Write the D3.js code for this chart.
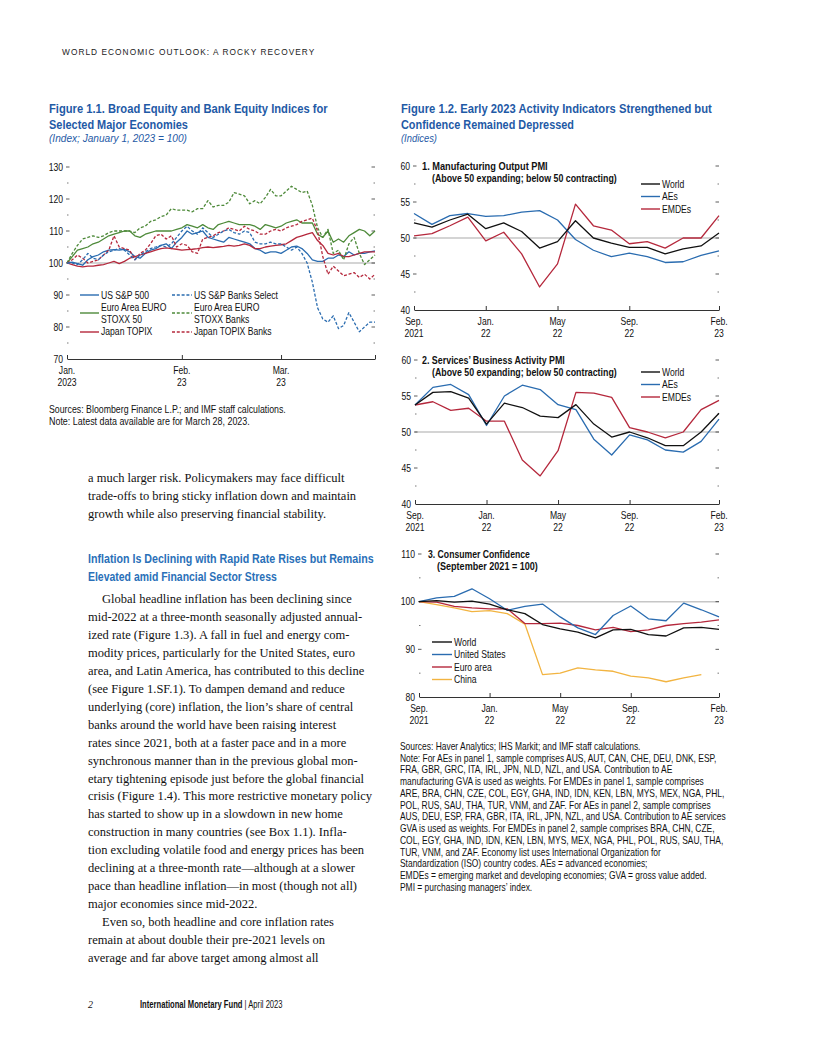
<html>
<head>
<script src="https://d3js.org/d3.v7.min.js"></script>
<style>
  body { margin: 0; background: #fff; }
  text { font-family: "Liberation Sans", Arial, sans-serif; fill: #111; }
  .serif { font-family: "Liberation Serif", "DejaVu Serif", serif; }
</style>
</head>
<body>
<svg id="page" width="816" height="1056"></svg>
<script>
// ---- Figure 1.1: equity indices, trading days Jan 2 - Mar 28, 2023 ----
const eqTickIdx = [0, 22, 41, 59];
const eqTickLabels = [["Jan.", "2023"], ["Feb.", "23"], ["Mar.", "23"], null];
const spx = [100,100.3,99.8,99.3,101,102,102.5,103.5,104,104.2,104,104.3,103.5,102,101.5,103,104,104.5,105.5,106,104.5,106.5,108,110,109,109.5,110,108,107.5,107,106.5,108,107.5,107,106.5,106,104.5,104,103,103.5,103.5,103,104,105,105.3,104.5,103,101,100.5,100.5,101.5,101.5,102.5,102,103.5,102.5,103,103,103.5,103.8];
const spxBanks = [100,100,99.5,101,103,101.5,101,102.5,103.5,104,104.5,104,102.5,101,102.5,103.5,104.5,105,105.5,105,106,108,110,111.5,110,109,111,109.5,108,109,110,110.5,109.5,109,110,109.5,106.5,106,106,106.5,106,106,105,104,105,103,100,94,86,82.5,81.5,83.5,79.5,80.5,84.5,81.5,78.5,80,81.5,81.5];
const stoxx50 = [100,102,104,104.5,105,106,106.5,107.5,108.5,109,109.5,110,110,108.5,108,109,109.5,110,110,110,110,110.5,111,112,111.5,111,112,111,110.5,112,112.5,113,112.5,112,112,112,111.5,110.5,112,111.5,111,111.5,112.5,113,113.5,112.5,112.5,112.5,109,108,110,106.5,107.5,106.5,108.5,109.5,110.5,110,108.5,110];
const stoxxBanks = [100,103,105.5,107.5,108,108.5,108,108.5,109.5,110,110,110,110,109.5,111,111.5,113,113.5,114.5,115,117,116.5,116.5,116.5,116,117,117,119.5,117.5,118,118,119,122,121.5,121,118.5,119.5,118.5,120.5,123,121,121,122.5,124,123,122,122.5,118,111,108,110.5,103,104,101,106,108,103,99.5,101,102.5];
const topix = [100,99.5,99,98.8,99,99,99.3,99.5,100,100.5,99.8,100.5,101.5,102,102.5,103,103.5,104,104.5,104.7,104.5,104.3,104,104.2,104.3,104.5,104.8,105,104.8,105,105.2,105.5,105.3,105.5,106,105.5,104.5,104.5,105,105.3,105.5,105.7,106,107,108,108.5,109,109.5,107,105.5,103,102.5,103,102,102,102.5,103,103.5,103.5,103.5];
const topixBanks = [100,101,102.5,101.5,100,100.5,101,102.5,104,108.5,105,104.5,104,101,103,104,106,108.5,109,107.5,108.5,105,106,105.5,103.5,103,107.5,108,108.5,109.5,110,111,110.5,110,111.5,110.5,110,109,109,110,110.5,110,111,111.5,112,113,113.5,114,110,102,96.5,99,97.5,96,96.5,97,95.5,96.5,95,96.5];

// ---- Figure 1.2: monthly, Sep 2021 - Feb 2023 ----
const monthTickIdx = [0, 4, 8, 12, 17];
const monthTickLabels = [["Sep.", "2021"], ["Jan.", "22"], ["May", "22"], ["Sep.", "22"], ["Feb.", "23"]];
const mfgWorld = [52.1,51.5,52.5,53.3,51.3,52.1,50.9,48.6,49.5,52.4,50.0,49.3,48.7,48.7,47.8,48.5,48.9,50.7];
const mfgAEs = [53.4,51.9,53.1,53.4,53.0,53.1,53.6,53.8,52.5,49.8,48.3,47.4,47.9,47.4,46.6,46.7,47.6,48.2];
const mfgEMDEs = [50.3,50.6,51.7,52.9,49.6,50.8,47.8,43.2,46.4,54.7,51.7,51.1,49.2,49.5,48.6,50.0,50.0,53.1];
const svcWorld = [53.75,55.5,55.6,54.7,51.1,54.0,53.4,52.2,52.0,53.8,51.1,49.3,50.0,49.2,48.1,48.1,50.0,52.6];
const svcAEs = [53.75,56.2,56.6,55.2,50.9,55.0,56.5,55.9,53.8,53.1,49.0,46.8,49.6,48.9,47.5,47.2,48.7,51.8];
const svcEMDEs = [53.75,54.2,53.0,53.3,51.5,51.5,46.1,43.9,47.4,55.5,55.4,54.8,50.6,50.0,49.2,50.0,53.1,54.4];
const ccWorld = [100,100.2,99.9,100.1,99.5,98.3,97.5,95.2,94.3,93.6,92.4,94.1,94.2,93.1,92.8,94.5,94.6,94.2];
const ccUS = [100,100.8,101.1,102.7,100.6,98.2,99.0,99.5,96.8,94.5,93.1,97.1,99.1,96.4,96.0,99.7,98.3,96.8];
const ccEuro = [100,99.9,99.0,98.7,98.5,98.5,95.4,95.4,95.5,95.0,94.1,94.6,93.7,94.1,95.0,95.4,95.7,96.2];
const ccChina = [100,99.4,98.7,97.9,98.1,97.5,95.3,84.7,85.0,86.1,85.7,85.4,84.4,84.0,83.2,84.0,84.7,null];

const BLUE = "#2a6cb0", RED = "#b5283c", GREEN = "#4e8a3a", YELLOW = "#f2b441", TITLE = "#1f5aa6";
const NARROW = 0.82; // squeeze Liberation Sans into an Arial Narrow look

const svg = d3.select("#page");

// horizontal squeeze about the text's own x, either by factor or to a target width
function squeeze(t, factor, width) {
  const x = +t.attr("x");
  let s = factor;
  if (width) s = width / t.node().getComputedTextLength();
  t.attr("transform", `translate(${x},0) scale(${s},1) translate(${-x},0)`);
  return s;
}

function addText(g, x, y, str, opts = {}) {
  const t = g.append("text").attr("x", x).attr("y", y).text(str)
    .attr("font-size", opts.size || 10);
  if (opts.weight) t.attr("font-weight", opts.weight);
  if (opts.italic) t.attr("font-style", "italic");
  if (opts.fill) t.style("fill", opts.fill);
  if (opts.anchor) t.attr("text-anchor", opts.anchor);
  if (opts.cls) t.attr("class", opts.cls);
  if (opts.spacing) t.attr("letter-spacing", opts.spacing);
  if (opts.width) squeeze(t, 1, opts.width);
  else if (opts.scale) squeeze(t, opts.scale);
  else if (!opts.cls) squeeze(t, NARROW);
  return t;
}

// generic line chart panel
function panel(cfg) {
  const g = svg.append("g");
  const x = d3.scaleLinear().domain(cfg.xDomain).range([cfg.left, cfg.right]);
  const y = d3.scaleLinear().domain(cfg.yDomain).range([cfg.bottom, cfg.top]);

  g.append("line")
    .attr("x1", cfg.left).attr("x2", cfg.right)
    .attr("y1", y(cfg.ref)).attr("y2", y(cfg.ref))
    .attr("stroke", "#c6c6c6").attr("stroke-width", 1.5);

  cfg.majors.forEach(d => addText(g, cfg.left - 4, y(d) + 3.7, d, { anchor: "end", size: cfg.labelSize || 10.5 }));
  const majorTicks = cfg.majors.filter(d => d !== cfg.yDomain[0]);
  g.selectAll(".ytl").data(majorTicks).join("line")
    .attr("x1", cfg.left - 1).attr("x2", cfg.left + 2.5)
    .attr("y1", d => y(d)).attr("y2", d => y(d)).attr("stroke", "#333").attr("stroke-width", 0.8);
  g.selectAll(".ytr").data(majorTicks).join("line")
    .attr("x1", cfg.right - 3.5).attr("x2", cfg.right)
    .attr("y1", d => y(d)).attr("y2", d => y(d)).attr("stroke", "#333").attr("stroke-width", 0.8);
  g.selectAll(".ymn").data(cfg.minors.flatMap(d => [[cfg.left, d], [cfg.right - 1.5, d]])).join("line")
    .attr("x1", d => d[0]).attr("x2", d => d[0] + 1.5)
    .attr("y1", d => y(d[1])).attr("y2", d => y(d[1])).attr("stroke", "#555").attr("stroke-width", 0.8);

  const ax = g.append("g").attr("transform", `translate(0,${cfg.bottom})`)
    .call(d3.axisBottom(x).tickValues(cfg.xTicks).tickSizeInner(-4).tickSizeOuter(0).tickFormat(""));
  ax.select(".domain").attr("stroke", "#333").attr("stroke-width", 1);
  ax.selectAll(".tick line").attr("stroke", "#333").attr("stroke-width", 1);
  cfg.xTicks.forEach((v, i) => {
    const lab = cfg.xLabels[i];
    if (!lab) return;
    addText(g, x(v), cfg.bottom + 15, lab[0], { anchor: "middle", size: cfg.labelSize || 10.5 });
    addText(g, x(v), cfg.bottom + 27, lab[1], { anchor: "middle", size: cfg.labelSize || 10.5 });
  });

  const line = d3.line().defined(d => d != null).x((d, i) => x(i)).y(d => y(d));
  cfg.series.forEach(s => {
    g.append("path").datum(s.values)
      .attr("fill", "none").attr("stroke", s.color).attr("stroke-width", s.width || 1.3)
      .attr("stroke-dasharray", s.dash ? "3,1.8" : null)
      .attr("stroke-linejoin", "round")
      .attr("d", line);
  });

  if (cfg.title) {
    const tt = cfg.title;
    addText(g, tt.x, y(cfg.yDomain[1]) + 3.7, tt.lines[0], { size: 10.5, weight: "bold", width: tt.widths[0] });
    addText(g, tt.x + tt.indent, y(cfg.yDomain[1]) + 15.7, tt.lines[1], { size: 10.5, weight: "bold", width: tt.widths[1] });
  }

  cfg.legend.forEach(l => {
    g.append("line").attr("x1", l.x).attr("x2", l.x + l.len)
      .attr("y1", l.ly).attr("y2", l.ly)
      .attr("stroke", l.color).attr("stroke-width", 1.4)
      .attr("stroke-dasharray", l.dash ? "3,1.8" : null);
    l.text.forEach((t, k) => addText(g, l.x + l.len + 2, l.ty + k * 12, t, { size: 10.5 }));
  });
  return g;
}

// ---------- page header ----------
addText(svg, 62, 55, "WORLD ECONOMIC OUTLOOK: A ROCKY RECOVERY",
  { size: 8.3, spacing: 1.05, scale: 1 }).style("fill", "#222");

// ---------- Figure 1.1 ----------
addText(svg, 49, 113, "Figure 1.1.  Broad Equity and Bank Equity Indices for", { size: 12.5, weight: "bold", fill: TITLE, width: 279 });
addText(svg, 49, 129, "Selected Major Economies", { size: 12.5, weight: "bold", fill: TITLE, width: 139 });
addText(svg, 49, 142, "(Index; January 1, 2023 = 100)", { size: 10.8, italic: true, fill: TITLE, width: 138 });

panel({
  left: 67, right: 375, top: 167, bottom: 359,
  xDomain: [0, 59], yDomain: [70, 130], ref: 100,
  majors: [70, 80, 90, 100, 110, 120, 130], minors: [75, 85, 95, 105, 115, 125],
  xTicks: eqTickIdx, xLabels: eqTickLabels,
  series: [
    { values: spx, color: BLUE },
    { values: stoxx50, color: GREEN },
    { values: topix, color: RED },
    { values: stoxxBanks, color: GREEN, dash: true },
    { values: topixBanks, color: RED, dash: true },
    { values: spxBanks, color: BLUE, dash: true }
  ],
  legend: [
    { x: 80, len: 19, ly: 295, ty: 299, color: BLUE, text: ["US S&P 500"] },
    { x: 80, len: 19, ly: 313, ty: 311, color: GREEN, text: ["Euro Area EURO", "STOXX 50"] },
    { x: 80, len: 19, ly: 332, ty: 335, color: RED, text: ["Japan TOPIX"] },
    { x: 172, len: 20, ly: 295, ty: 299, color: BLUE, dash: true, text: ["US S&P Banks Select"] },
    { x: 172, len: 20, ly: 313, ty: 311, color: GREEN, dash: true, text: ["Euro Area EURO", "STOXX Banks"] },
    { x: 172, len: 20, ly: 332, ty: 335, color: RED, dash: true, text: ["Japan TOPIX Banks"] }
  ]
});

addText(svg, 49, 413, "Sources: Bloomberg Finance L.P.; and IMF staff calculations.", { size: 10.5, width: 237 });
addText(svg, 49, 425, "Note: Latest data available are for March 28, 2023.", { size: 10.5, width: 201 });

// ---------- Figure 1.2 ----------
addText(svg, 401, 113, "Figure 1.2.  Early 2023 Activity Indicators Strengthened but", { size: 12.5, weight: "bold", fill: TITLE, width: 311 });
addText(svg, 401, 129, "Confidence Remained Depressed", { size: 12.5, weight: "bold", fill: TITLE, width: 173 });
addText(svg, 401, 142, "(Indices)", { size: 10.8, italic: true, fill: TITLE, width: 36 });

const pmiLegend = (yw) => [
  { x: 641, len: 19, ly: yw, ty: yw + 3.7, color: "#111", text: ["World"] },
  { x: 641, len: 19, ly: yw + 12.5, ty: yw + 16.2, color: BLUE, text: ["AEs"] },
  { x: 641, len: 19, ly: yw + 25, ty: yw + 28.7, color: RED, text: ["EMDEs"] }
];

panel({
  left: 414, right: 719, top: 166, bottom: 310,
  xDomain: [0, 17], yDomain: [40, 60], ref: 50,
  majors: [40, 45, 50, 55, 60], minors: [42.5, 47.5, 52.5, 57.5],
  xTicks: monthTickIdx, xLabels: monthTickLabels,
  series: [
    { values: mfgEMDEs, color: RED },
    { values: mfgAEs, color: BLUE },
    { values: mfgWorld, color: "#111" }
  ],
  title: { x: 422, indent: 10, widths: [126, 185], lines: ["1. Manufacturing Output PMI", "(Above 50 expanding; below 50 contracting)"] },
  legend: pmiLegend(184)
});

panel({
  left: 415, right: 719, top: 360, bottom: 504,
  xDomain: [0, 17], yDomain: [40, 60], ref: 50,
  majors: [40, 45, 50, 55, 60], minors: [42.5, 47.5, 52.5, 57.5],
  xTicks: monthTickIdx, xLabels: monthTickLabels,
  series: [
    { values: svcEMDEs, color: RED },
    { values: svcAEs, color: BLUE },
    { values: svcWorld, color: "#111" }
  ],
  title: { x: 422, indent: 10, widths: [143, 185], lines: ["2. Services’ Business Activity PMI", "(Above 50 expanding; below 50 contracting)"] },
  legend: pmiLegend(372)
});

panel({
  left: 419, right: 719, top: 554, bottom: 697,
  xDomain: [0, 17], yDomain: [80, 110], ref: 100,
  majors: [80, 90, 100, 110], minors: [85, 95, 105],
  xTicks: monthTickIdx, xLabels: monthTickLabels,
  series: [
    { values: ccChina, color: YELLOW },
    { values: ccEuro, color: RED },
    { values: ccUS, color: BLUE },
    { values: ccWorld, color: "#111" }
  ],
  title: { x: 428, indent: 9, widths: [102, 101], lines: ["3. Consumer Confidence", "(September 2021 = 100)"] },
  legend: [
    { x: 432, len: 20, ly: 642, ty: 645.7, color: "#111", text: ["World"] },
    { x: 432, len: 20, ly: 654.5, ty: 658.2, color: BLUE, text: ["United States"] },
    { x: 432, len: 20, ly: 667, ty: 670.7, color: RED, text: ["Euro area"] },
    { x: 432, len: 20, ly: 679.5, ty: 683.2, color: YELLOW, text: ["China"] }
  ]
});

const noteLines = [
  "Sources: Haver Analytics; IHS Markit; and IMF staff calculations.",
  "Note: For AEs in panel 1, sample comprises AUS, AUT, CAN, CHE, DEU, DNK, ESP,",
  "FRA, GBR, GRC, ITA, IRL, JPN, NLD, NZL, and USA. Contribution to AE",
  "manufacturing GVA is used as weights. For EMDEs in panel 1, sample comprises",
  "ARE, BRA, CHN, CZE, COL, EGY, GHA, IND, IDN, KEN, LBN, MYS, MEX, NGA, PHL,",
  "POL, RUS, SAU, THA, TUR, VNM, and ZAF. For AEs in panel 2, sample comprises",
  "AUS, DEU, ESP, FRA, GBR, ITA, IRL, JPN, NZL, and USA. Contribution to AE services",
  "GVA is used as weights. For EMDEs in panel 2, sample comprises BRA, CHN, CZE,",
  "COL, EGY, GHA, IND, IDN, KEN, LBN, MYS, MEX, NGA, PHL, POL, RUS, SAU, THA,",
  "TUR, VNM, and ZAF. Economy list uses International Organization for",
  "Standardization (ISO) country codes. AEs = advanced economies;",
  "EMDEs = emerging market and developing economies; GVA = gross value added.",
  "PMI = purchasing managers’ index."
];
// fit line 2 to its measured width, then use the same squeeze for every note line
const probe = addText(svg, 400, 750 + 11.75, noteLines[1], { size: 10.5, scale: 1 });
const noteScale = squeeze(probe, 1, 317);
noteLines.forEach((t, i) => { if (i !== 1) addText(svg, 400, 750 + i * 11.75, t, { size: 10.5, scale: noteScale }); });

// ---------- body text ----------
const bodyTop = [
  "a much larger risk. Policymakers may face difficult",
  "trade-offs to bring sticky inflation down and maintain",
  "growth while also preserving financial stability."
];
const heading = [
  "Inflation Is Declining with Rapid Rate Rises but Remains",
  "Elevated amid Financial Sector Stress"
];
const headingWidths = [286, 189];
const bodyMain = [
  "Global headline inflation has been declining since",
  "mid-2022 at a three-month seasonally adjusted annual-",
  "ized rate (Figure 1.3). A fall in fuel and energy com-",
  "modity prices, particularly for the United States, euro",
  "area, and Latin America, has contributed to this decline",
  "(see Figure 1.SF.1). To dampen demand and reduce",
  "underlying (core) inflation, the lion’s share of central",
  "banks around the world have been raising interest",
  "rates since 2021, both at a faster pace and in a more",
  "synchronous manner than in the previous global mon-",
  "etary tightening episode just before the global financial",
  "crisis (Figure 1.4). This more restrictive monetary policy",
  "has started to show up in a slowdown in new home",
  "construction in many countries (see Box 1.1). Infla-",
  "tion excluding volatile food and energy prices has been",
  "declining at a three-month rate—although at a slower",
  "pace than headline inflation—in most (though not all)",
  "major economies since mid-2022.",
  "Even so, both headline and core inflation rates",
  "remain at about double their pre-2021 levels on",
  "average and far above target among almost all"
];
const indented = [0, 18];
bodyTop.forEach((t, i) => addText(svg, 88, 482 + i * 18, t, { size: 12.5, cls: "serif" }));
heading.forEach((t, i) => addText(svg, 88, 563 + i * 18, t, { size: 13.5, weight: "bold", fill: "#2a70b8", width: headingWidths[i] }));
bodyMain.forEach((t, i) => addText(svg, indented.includes(i) ? 102 : 88, 603 + i * 17.95, t, { size: 12.5, cls: "serif" }));

// ---------- footer ----------
addText(svg, 88, 1008, "2", { size: 10, italic: true, cls: "serif" });
const foot = svg.append("text").attr("x", 140).attr("y", 1008).attr("font-size", 10);
foot.append("tspan").attr("font-weight", "bold").text("International Monetary Fund");
foot.append("tspan").text(" | April 2023");
squeeze(foot, 1, 143);
</script>
</body>
</html>
